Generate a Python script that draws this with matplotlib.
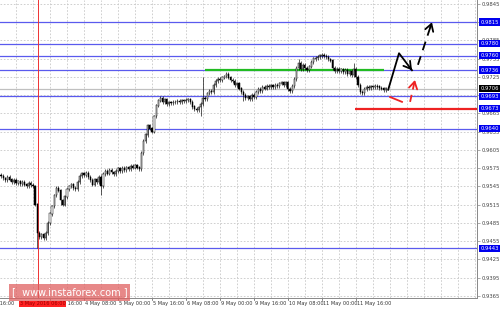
import numpy as np
import matplotlib.pyplot as plt
from matplotlib.patches import Rectangle

# ---- data (H1 closes, in pips: 9564 -> 0.9564)
closes = [9562, 9558, 9555, 9560, 9556, 9552, 9555, 9550, 9553, 9549,
          9552, 9548, 9546, 9550, 9547, 9545, 9515, 9468, 9462, 9466,
          9460, 9468, 9485, 9500, 9512, 9530, 9542, 9538, 9522, 9515,
          9528, 9540, 9545, 9548, 9542, 9540, 9552, 9562, 9566, 9563,
          9567, 9560, 9555, 9548, 9556, 9552, 9560, 9545, 9565, 9570,
          9566, 9572, 9568, 9565, 9570, 9574, 9570, 9575, 9572, 9576,
          9574, 9578, 9576, 9579, 9576, 9574, 9600, 9620, 9630, 9645,
          9640, 9635, 9660, 9678, 9686, 9690, 9684, 9688, 9680, 9683,
          9682, 9684, 9683, 9685, 9684, 9686, 9685, 9687, 9688, 9684,
          9676, 9672, 9670, 9675, 9680, 9690, 9688, 9698, 9702, 9700,
          9712, 9718, 9722, 9720, 9724, 9726, 9730, 9724, 9720, 9718,
          9712, 9714, 9706, 9700, 9695, 9690, 9693, 9688, 9695, 9692,
          9700, 9705, 9702, 9708, 9706, 9710, 9708, 9711, 9709, 9712,
          9710, 9714, 9716, 9712, 9716, 9705, 9702, 9710, 9722, 9740,
          9748, 9738, 9745, 9740, 9736, 9742, 9750, 9755, 9756, 9758,
          9760, 9761, 9759, 9758, 9754, 9752, 9740, 9735, 9738, 9735,
          9737, 9733, 9736, 9730, 9734, 9728, 9738, 9725, 9712, 9700,
          9698, 9705, 9708, 9707, 9709, 9708, 9710, 9709, 9707, 9706,
          9704, 9706]
first_open = 9564
wick_high = {95: 9725, 106: 9733, 140: 9755, 151: 9763, 166: 9748, 47: 9562}
wick_low = {17: 9443, 47: 9530, 94: 9660, 114: 9686, 28: 9515}
wick_pad = 3

level_blue = [0.9815, 0.9780, 0.9760, 0.9736, 0.9693, 0.9640, 0.9443]
level_red = 0.9673
level_green = 0.9736
current = 0.9706
yticks = [0.9365, 0.9395, 0.9425, 0.9455, 0.9485, 0.9515, 0.9545, 0.9575,
          0.9605, 0.9635, 0.9665, 0.9695, 0.9725, 0.9755, 0.9785, 0.9815, 0.9845]
tag_blue = [0.9815, 0.9780, 0.9760, 0.9736, 0.9693, 0.9673, 0.9640, 0.9443]

xtick_bars = [-9, 23, 39, 55, 71, 87, 103, 119, 135, 151, 167]
xtick_text = ["2 May 16:00", "3 May 16:00", "4 May 08:00", "5 May 00:00",
              "5 May 16:00", "6 May 08:00", "9 May 00:00", "9 May 16:00",
              "10 May 08:00", "11 May 00:00", "11 May 16:00"]
sep_bar = 17.3
sep_text = "3 May 2016 06:00"

# forecast sketch (bar, price)
black_path = [(182.2, 0.9704), (187.3, 0.9764), (193.4, 0.9736)]
black_dash = [(196.2, 0.9745), (202.8, 0.9815)]
red_dash = [(183.1, 0.9692), (188.7, 0.9684)]
red_up = [(192.5, 0.9684), (194.8, 0.9720)]

# ----
c = np.array(closes) / 10000.0
o = np.r_[first_open / 10000.0, c[:-1]]
n = len(c)
hi = np.maximum(o, c) + wick_pad / 10000.0
lo = np.minimum(o, c) - wick_pad / 10000.0
for k, v in wick_high.items():
    hi[k] = max(hi[k], v / 10000.0)
for k, v in wick_low.items():
    lo[k] = min(lo[k], v / 10000.0)
idx = np.arange(n)

fig = plt.figure(figsize=(5.0, 3.12), dpi=100)
ax = fig.add_axes([0.0, 0.045, 0.954, 0.955])
ax.set_xlim(-0.5, 224)
ax.set_ylim(0.93614, 0.98516)

for yt in yticks:
    ax.axhline(yt, color='#c8c8c8', lw=0.6, ls=(0, (2, 2)), zorder=0)
for xb in np.arange(-1, 224, 8):
    ax.axvline(xb, color='#c8c8c8', lw=0.6, ls=(0, (2, 2)), zorder=0)

ax.axhline(current, color='#c0c0c0', lw=0.9, zorder=1)
for lv in level_blue:
    ax.axhline(lv, color='#5a5aee', lw=0.9, zorder=1)
ax.axvline(sep_bar, color='#ee3333', lw=0.7, zorder=1)
ax.hlines(level_green, 96, 180, color='#22bb22', lw=1.6, zorder=2)
ax.hlines(level_red, 166.7, 224, color='#ee2222', lw=1.6, zorder=2)

up = c >= o
ax.vlines(idx, lo, hi, color='black', lw=0.45, zorder=3)
ax.bar(idx, np.abs(c - o) + 0.00004, bottom=np.minimum(o, c), width=0.55,
       color=np.where(up, 'white', 'black'), edgecolor='black', lw=0.35, zorder=4)

def sketch(path, color, ls='-', arrow=True):
    xs, ys = zip(*path)
    ax.plot(xs, ys, color=color, lw=1.3, ls=ls, zorder=5)
    if arrow:
        (x0, y0), (x1, y1) = path[-2], path[-1]
        # head only: short stub just before the tip
        ax.annotate('', xy=(x1, y1), xytext=(x1 - 0.12 * (x1 - x0), y1 - 0.12 * (y1 - y0)),
                    arrowprops=dict(arrowstyle='->,head_length=0.5,head_width=0.3',
                                    color=color, lw=1.3, shrinkA=0, shrinkB=0),
                    zorder=5)

sketch(black_path, 'black')
sketch(black_dash, 'black', ls=(0, (5, 3.5)))
sketch(red_dash, '#ee2222', arrow=False)
sketch(red_up, '#ee2222', ls=(0, (4, 3)))

# axes cosmetics
for s in ['top', 'left']:
    ax.spines[s].set_visible(False)
for s in ['right', 'bottom']:
    ax.spines[s].set_color('#888888')
    ax.spines[s].set_linewidth(0.7)
ax.yaxis.tick_right()
ax.set_yticks(yticks)
ax.set_yticklabels(['%.4f' % v for v in yticks], fontsize=3.8, color='#444444')
ax.tick_params(axis='y', length=2, width=0.5, color='#888888', pad=1.5)
ax.set_xticks([])

ytr = ax.get_yaxis_transform()
for lv in tag_blue:
    ax.text(1.008, lv, '%.4f' % lv, transform=ytr, fontsize=3.8, color='white',
            va='center', ha='left', clip_on=False, zorder=10,
            bbox=dict(boxstyle='square,pad=0.25', fc='#0000ee', ec='none'))
ax.text(1.008, current, '%.4f' % current, transform=ytr, fontsize=3.8, color='white',
        va='center', ha='left', clip_on=False, zorder=10,
        bbox=dict(boxstyle='square,pad=0.25', fc='black', ec='none'))

xtr = ax.get_xaxis_transform()
for xb, t in zip(xtick_bars, xtick_text):
    ax.plot([xb, xb], [0, -0.008], color='#555555', lw=0.5, transform=xtr, clip_on=False)
    ax.text(xb + 0.5, -0.02, t, transform=xtr, fontsize=3.6, color='#333333',
            va='center', ha='left', clip_on=False)
ax.text(sep_bar - 8.5, -0.02, sep_text, transform=xtr, fontsize=3.6, color='#990000',
        va='center', ha='left', clip_on=False, zorder=10,
        bbox=dict(boxstyle='square,pad=0.15', fc='#ff2222', ec='none'))

# watermark
fig.patches.append(Rectangle((9 / 500, 1 - 301 / 312), 121 / 500, 17 / 312,
                             transform=fig.transFigure, fc='#e06060', alpha=0.75,
                             ec='none', zorder=20))
fig.text(70 / 500, 1 - 292.5 / 312, '[  www.instaforex.com ]', color='white',
         fontsize=7, ha='center', va='center', zorder=21)

fig.savefig('out.png', dpi=100)
